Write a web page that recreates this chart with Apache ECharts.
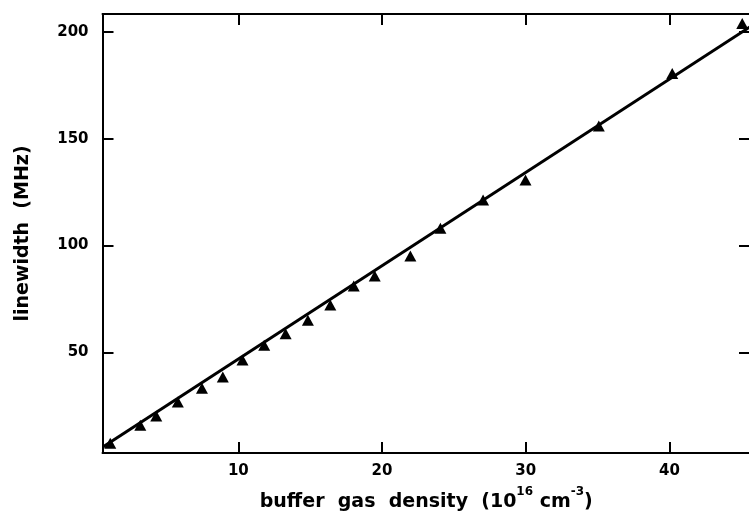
<!DOCTYPE html>
<html><head><meta charset="utf-8">
<script src="https://cdn.jsdelivr.net/npm/echarts@6/dist/echarts.min.js"></script>
<style>html,body{margin:0;padding:0;background:#fff}#c{width:749px;height:518px}</style>
</head><body><div id="c"></div>
<script>
// measured points: buffer gas density (10^16 cm^-3) vs linewidth (MHz)
const density   = [1.09, 3.18, 4.29, 5.79, 7.47, 8.92, 10.29, 11.80, 13.29, 14.84, 16.40, 18.03, 19.49, 21.97, 24.06, 27.03, 29.98, 35.08, 40.19, 45.06];
const linewidth = [7.6, 16.0, 20.3, 26.9, 33.3, 38.5, 46.5, 53.4, 58.8, 65.1, 72.2, 81.1, 85.8, 95.1, 108.1, 121.3, 130.7, 155.9, 180.5, 203.9];
// straight fit line end points
const fitDensity   = [0.6, 45.6];
const fitLinewidth = [5.9, 202.3];
// tick labels
const xTicks = [10, 20, 30, 40];
const yTicks = [50, 100, 150, 200];
const xRange = [0.55, 45.6];
const yRange = [3.0, 208.3];

const FONT = 'DejaVu Sans';
const axisLineStyle = { show: true, onZero: false, lineStyle: { color: '#000', width: 2 } };
function tick(vals) {
  return { show: true, inside: true, length: 11, customValues: vals, lineStyle: { color: '#000', width: 2 } };
}
const labelStyle = { color: '#000', fontFamily: FONT, fontWeight: 'bold', fontSize: 15 };

const chart = echarts.init(document.getElementById('c'), null, { renderer: 'canvas' });
chart.setOption({
  backgroundColor: '#fff',
  animation: false,
  grid: { left: 102.5, right: -1, top: 14, bottom: 65, outerBoundsMode: 'none' },
  xAxis: [
    {
      type: 'value', position: 'bottom', min: xRange[0], max: xRange[1],
      axisLine: axisLineStyle, axisTick: tick(xTicks),
      axisLabel: Object.assign({ customValues: xTicks, margin: 11 }, labelStyle),
      splitLine: { show: false },
      name: '{a|buffer  gas  density  (10}{s|16}{a| cm}{s|-3}{a|)}',
      nameLocation: 'middle', nameGap: 33,
      nameTextStyle: {
        color: '#000', fontFamily: FONT, fontWeight: 'bold', fontSize: 19,
        rich: {
          a: { color: '#000', fontFamily: FONT, fontWeight: 'bold', fontSize: 19, lineHeight: 26, verticalAlign: 'bottom' },
          s: { color: '#000', fontFamily: FONT, fontWeight: 'bold', fontSize: 12, lineHeight: 26, verticalAlign: 'top' }
        }
      }
    },
    {
      type: 'value', position: 'top', min: xRange[0], max: xRange[1],
      axisLine: axisLineStyle, axisTick: tick(xTicks),
      axisLabel: { show: false }, splitLine: { show: false }
    }
  ],
  yAxis: [
    {
      type: 'value', position: 'left', min: yRange[0], max: yRange[1],
      axisLine: axisLineStyle, axisTick: tick(yTicks),
      axisLabel: Object.assign({ customValues: yTicks, margin: 14 }, labelStyle),
      splitLine: { show: false },
      name: 'linewidth  (MHz)', nameLocation: 'middle', nameGap: 70,
      nameTextStyle: { color: '#000', fontFamily: FONT, fontWeight: 'bold', fontSize: 19 }
    },
    {
      type: 'value', position: 'right', min: yRange[0], max: yRange[1],
      axisLine: axisLineStyle, axisTick: tick(yTicks),
      axisLabel: { show: false }, splitLine: { show: false }
    }
  ],
  series: [
    {
      type: 'line', xAxisIndex: 0, yAxisIndex: 0,
      data: fitDensity.map((d, i) => [d, fitLinewidth[i]]),
      showSymbol: false, symbol: 'none',
      lineStyle: { color: '#000', width: 3 }, z: 2
    },
    {
      type: 'scatter', xAxisIndex: 0, yAxisIndex: 0,
      data: density.map((d, i) => [d, linewidth[i]]),
      symbol: 'triangle', symbolSize: [12, 11],
      itemStyle: { color: '#000', opacity: 1 }, z: 3, clip: false
    }
  ]
});
</script>
</body></html>
